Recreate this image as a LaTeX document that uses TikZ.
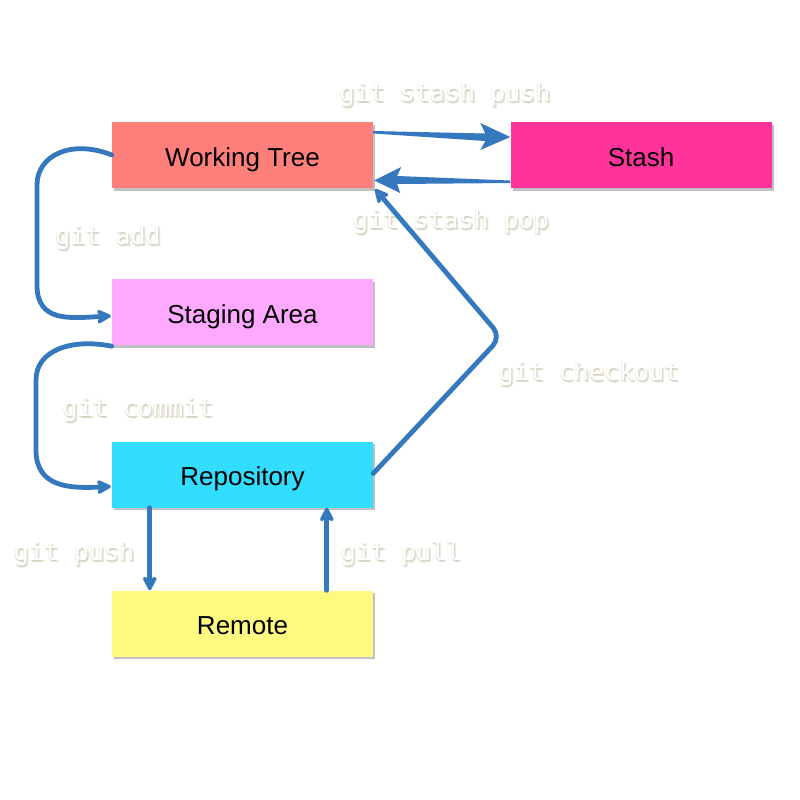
\documentclass[tikz,border=0pt]{standalone}
\usepackage{fontspec}
\setmainfont{Liberation Sans}
\newfontfamily\monof{DejaVu Sans Mono}
\usetikzlibrary{shadows,calc,arrows.meta}
\definecolor{wtc}{RGB}{255,128,122}
\definecolor{stc}{RGB}{255,51,153}
\definecolor{sac}{RGB}{255,168,255}
\definecolor{rpc}{RGB}{51,221,255}
\definecolor{rmc}{RGB}{255,249,128}
\definecolor{arc}{RGB}{53,120,190}
\definecolor{shc}{RGB}{205,200,175}
\tikzset{
  box/.style={minimum width=261pt, minimum height=66pt, inner sep=0pt,
    font=\fontsize{26}{30}\selectfont, text height=23pt, text depth=0.5pt,
    drop shadow={shadow xshift=2pt, shadow yshift=-2.5pt, opacity=0.35, fill=black!70}},
  conn/.style={draw=arc, line width=4.8pt, line cap=round,
    -{Stealth[length=17pt,width=17pt,inset=4pt,round]}},
  tap/.style={fill=arc},
  lbl/.style={text=white, font=\monof\fontsize{25}{28}\selectfont, inner sep=0pt},
  lblsh/.style={text=shc, text opacity=0.45, font=\monof\fontsize{25}{28}\selectfont, inner sep=0pt}
}
\newcommand\gitlbl[3]{%
  \node[lblsh] at ($(#2)+(2,2)$) {#3};
  \node[lblsh] at ($(#2)+(1,1.2)$) {#3};
  \node[lblsh] at ($(#2)+(-0.6,0.6)$) {#3};
  \node[lbl] (#1) at (#2) {#3};}
\begin{document}
\begin{tikzpicture}[x=1pt,y=-1pt]
\useasboundingbox (0,0) rectangle (800,800);
\fill[white] (0,0) rectangle (800,800);
% boxes
\node[box, fill=wtc] (wt) at (242.5,155) {Working Tree};
\node[box, fill=stc] (st) at (641,155) {Stash};
\node[box, fill=sac] (sa) at (242.5,312) {Staging Area};
\node[box, fill=rpc] (rp) at (242.5,474.5) {Repository};
\node[box, fill=rmc] (rm) at (242.5,623.5) {Remote};
% labels
\gitlbl{lpush}{445,95}{git stash push}
\gitlbl{lpop}{451,222}{git stash pop}
\gitlbl{ladd}{108,238}{git add}
\gitlbl{lco}{589,374}{git checkout}
\gitlbl{lcom}{138,410}{git commit}
\gitlbl{lgp}{74,554}{git push}
\gitlbl{lgl}{401,554}{git pull}
% stash push (tapered)
\fill[tap] ($(wt.east)+(0,-24)$) -- ($(st.west)+(-25,-21.5)$) -- ($(st.west)+(-30,-32)$)
  -- ($(st.west)+(0,-18)$) -- ($(st.west)+(-30,-5)$) -- ($(st.west)+(-25,-14)$)
  -- ($(wt.east)+(0,-21.5)$) -- cycle;
% stash pop (tapered)
\fill[tap] ($(st.west)+(0,25.5)$) -- ($(wt.east)+(24,21)$) -- ($(wt.east)+(28,12)$)
  -- ($(wt.east)+(1,25.5)$) -- ($(wt.east)+(27,38)$) -- ($(wt.east)+(24,29)$)
  -- ($(st.west)+(0,28)$) -- cycle;
% git add
\draw[conn] (wt.west) .. controls +(-40,-16) and +(0,-30) .. (37,185)
  -- (37,285) .. controls +(0,38) and +(-40,2) .. ($(sa.west)+(-1,4)$);
% git commit
\draw[conn] ($(sa.south west)+(0,1)$) .. controls +(-40,-8) and +(0,-30) .. (36,380)
  -- (36,450) .. controls +(0,38) and +(-40,2) .. ($(rp.west)+(-1,12)$);
% git checkout
\draw[conn, rounded corners=12pt] ($(rp.east)+(0,-1)$) -- (501,337) -- ($(wt.south east)+(2,1)$);
% push / pull
\draw[conn] ($(rp.south west)+(38,0)$) -- ($(rm.north west)+(38,0)$);
\draw[conn] ($(rm.north west)+(215,0)$) -- ($(rp.south west)+(215,0)$);
\end{tikzpicture}
\end{document}
